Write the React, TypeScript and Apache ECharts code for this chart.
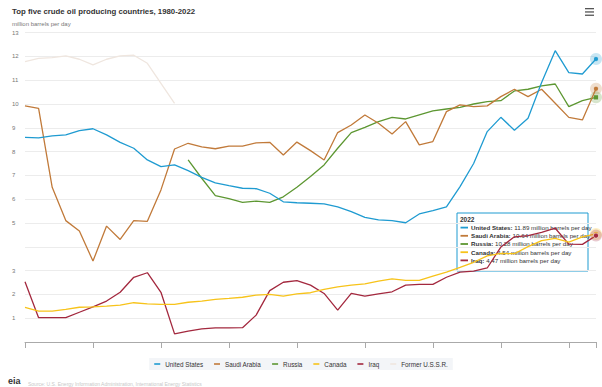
import React, { useEffect, useRef } from "react";
import * as echarts from "echarts";

const years: number[] = [];
for (let y = 1980; y <= 2022; y++) years.push(y);

const seriesNames = ["United States", "Saudi Arabia", "Russia", "Canada", "Iraq", "Former U.S.S.R."];
const colors = ["#1f9bd1", "#c17a3a", "#5d9732", "#f7c31a", "#a3283e", "#efe6df"];

const unitedStates = [8.6, 8.58, 8.66, 8.7, 8.88, 8.96, 8.7, 8.39, 8.14, 7.65, 7.37, 7.44, 7.2, 6.92, 6.69, 6.57, 6.46, 6.44, 6.25, 5.89, 5.85, 5.83, 5.8, 5.68, 5.48, 5.24, 5.13, 5.1, 5.01, 5.38, 5.52, 5.68, 6.53, 7.5, 8.84, 9.44, 8.9, 9.4, 10.9, 12.24, 11.32, 11.26, 11.89];
const saudiArabia = [9.92, 9.82, 6.5, 5.1, 4.66, 3.4, 4.87, 4.31, 5.1, 5.07, 6.39, 8.11, 8.35, 8.2, 8.12, 8.23, 8.23, 8.37, 8.39, 7.86, 8.4, 8.04, 7.65, 8.8, 9.12, 9.54, 9.19, 8.74, 9.26, 8.28, 8.42, 9.68, 9.96, 9.89, 9.92, 10.31, 10.62, 10.31, 10.62, 10.03, 9.44, 9.33, 10.64];
const russia = [null, null, null, null, null, null, null, null, null, null, null, null, 7.65, 6.88, 6.15, 6.02, 5.87, 5.92, 5.87, 6.1, 6.5, 6.95, 7.44, 8.14, 8.8, 9.02, 9.26, 9.44, 9.37, 9.54, 9.71, 9.79, 9.86, 10.0, 10.1, 10.14, 10.55, 10.62, 10.76, 10.84, 9.89, 10.14, 10.28];
const canada = [1.46, 1.3, 1.3, 1.37, 1.46, 1.48, 1.51, 1.55, 1.65, 1.6, 1.58, 1.58, 1.67, 1.72, 1.79, 1.83, 1.88, 1.97, 2.0, 1.93, 2.02, 2.07, 2.21, 2.32, 2.39, 2.44, 2.56, 2.65, 2.59, 2.59, 2.77, 2.94, 3.14, 3.35, 3.62, 3.72, 3.71, 4.01, 4.26, 4.35, 4.2, 4.42, 4.54];
const iraq = [2.53, 1.02, 1.02, 1.02, 1.25, 1.48, 1.72, 2.09, 2.72, 2.91, 2.09, 0.34, 0.46, 0.55, 0.59, 0.59, 0.6, 1.13, 2.16, 2.51, 2.58, 2.39, 2.04, 1.34, 2.04, 1.93, 2.02, 2.11, 2.39, 2.42, 2.42, 2.72, 2.94, 2.98, 3.11, 3.99, 4.42, 4.47, 4.61, 4.78, 4.11, 4.1, 4.47];
const formerUSSR = [11.78, 11.92, 11.95, 12.02, 11.88, 11.64, 11.88, 12.02, 12.05, 11.71, 10.87, 10.03, null, null, null, null, null, null, null, null, null, null, null, null, null, null, null, null, null, null, null, null, null, null, null, null, null, null, null, null, null, null, null];

const allValues = [unitedStates, saudiArabia, russia, canada, iraq, formerUSSR];
const yTicks = [0, 1, 2, 3, 4, 5, 6, 7, 8, 9, 10, 11, 12, 13];
const hiddenYLabels = [0, 4];
const titleText = "Top five crude oil producing countries, 1980-2022";
const subtitleText = "million barrels per day";
const tooltipYear = 2022;
const tooltipNames = ["United States", "Saudi Arabia", "Russia", "Canada", "Iraq"];
const highlightSymbols = ["circle", "circle", "rect", "circle", "circle"];

export default function App() {
  const ref = useRef<HTMLDivElement>(null);
  useEffect(() => {
    if (!ref.current) return;
    document.body.style.margin = "0";
    const chart = echarts.init(ref.current, undefined, { renderer: "svg" });
    const series: any[] = seriesNames.map((name, i) => {
      const vals = allValues[i];
      const data = years.map((yr, k) => [yr, vals[k]]);
      const s: any = {
        name,
        type: "line",
        data,
        showSymbol: false,
        symbol: "circle",
        connectNulls: false,
        lineStyle: { width: 1.3, color: colors[i] },
        itemStyle: { color: colors[i] },
        z: i === 5 ? 1 : 5 - i + 2,
      };
      if (i < 5) {
        const last = vals[vals.length - 1];
        s.markPoint = {
          silent: true,
          label: { show: false },
          data: [
            { coord: [tooltipYear, last], symbol: "circle", symbolSize: 12, itemStyle: { color: colors[i], opacity: 0.25 } },
            { coord: [tooltipYear, last], symbol: highlightSymbols[i], symbolSize: 5, itemStyle: { color: colors[i], borderColor: "#fff", borderWidth: 0.5 } },
          ],
        };
      }
      return s;
    });

    const lastIdx = years.indexOf(tooltipYear);
    const tipX = 457;
    const tipY = 213;
    const tipChildren: any[] = [
      { type: "rect", shape: { x: tipX, y: tipY, width: 131, height: 58 }, style: { fill: "rgba(255,255,255,0.82)", stroke: colors[0], lineWidth: 1 } },
      { type: "text", x: tipX + 3, y: tipY + 3, style: { text: String(tooltipYear), font: "bold 6.5px Arial, 'Liberation Sans', sans-serif", fill: "#333" } },
    ];
    tooltipNames.forEach((nm, i) => {
      const v = allValues[i][lastIdx] as number;
      const ly = tipY + 14.5 + i * 8.2;
      tipChildren.push({ type: "rect", shape: { x: tipX + 3.5, y: ly - 0.8, width: 7.5, height: 1.8 }, style: { fill: colors[i] } });
      tipChildren.push({
        type: "text",
        x: tipX + 14,
        y: ly,
        style: {
          text: `{b|${nm}:} ${v.toFixed(2)} million barrels per day`,
          font: "6.2px Arial, 'Liberation Sans', sans-serif",
          fill: "#333",
          verticalAlign: "middle",
          rich: { b: { fontWeight: "bold", fontSize: 6.2, fill: "#333", fontFamily: "Arial, 'Liberation Sans', sans-serif" } },
        },
      });
    });

    chart.setOption({
      animation: false,
      backgroundColor: "#ffffff",
      textStyle: { fontFamily: "Arial, 'Liberation Sans', sans-serif" },
      title: [
        { text: titleText, left: 12, top: 7.5, padding: 0, textStyle: { fontSize: 7.8, fontWeight: "bold", color: "#333" } },
        { text: subtitleText, left: 12, top: 21, padding: 0, textStyle: { fontSize: 6, lineHeight: 6, fontWeight: "normal", color: "#777" } },
      ],
      grid: { left: 25, right: 6, top: 32.6, bottom: 45, containLabel: false },
      xAxis: {
        type: "value",
        min: 1980,
        max: 2022,
        interval: 5,
        axisLine: { show: true, lineStyle: { color: "#aaa", width: 1 } },
        axisTick: { show: true, length: 6, lineStyle: { color: "#aaa" } },
        axisLabel: { show: false },
        splitLine: { show: false },
      },
      yAxis: {
        type: "value",
        min: yTicks[0],
        max: yTicks[yTicks.length - 1],
        interval: 1,
        axisLine: { show: false },
        axisTick: { show: false },
        axisLabel: {
          align: "left",
          margin: 13,
          fontSize: 6,
          color: "#777",
          formatter: (v: number) => (hiddenYLabels.includes(v) ? "" : String(v)),
        },
        splitLine: { lineStyle: { color: "#ececec", width: 1 } },
      },
      legend: {
        data: seriesNames,
        top: 358,
        left: "center",
        icon: "rect",
        itemWidth: 6,
        itemHeight: 1.6,
        itemGap: 11,
        padding: [3, 5],
        backgroundColor: "#f3f5f8",
        textStyle: { fontSize: 6.3, color: "#333" },
      },
      tooltip: { show: false },
      series,
      graphic: [
        { type: "group", z: 100, children: tipChildren },
        { type: "rect", shape: { x: 585, y: 8, width: 9, height: 1.3 }, style: { fill: "#555" } },
        { type: "rect", shape: { x: 585, y: 11.3, width: 9, height: 1.3 }, style: { fill: "#555" } },
        { type: "rect", shape: { x: 585, y: 14.6, width: 9, height: 1.3 }, style: { fill: "#555" } },
        { type: "text", x: 8, y: 376, style: { text: "eia", font: "bold 9px Arial, 'Liberation Sans', sans-serif", fill: "#333" } },
        { type: "text", x: 28, y: 381, style: { text: "Source: U.S. Energy Information Administration, International Energy Statistics", font: "5px Arial, 'Liberation Sans', sans-serif", fill: "#c8c8c8" } },
      ],
    });
    return () => chart.dispose();
  }, []);
  return <div ref={ref} style={{ width: 602, height: 387 }} />;
}
